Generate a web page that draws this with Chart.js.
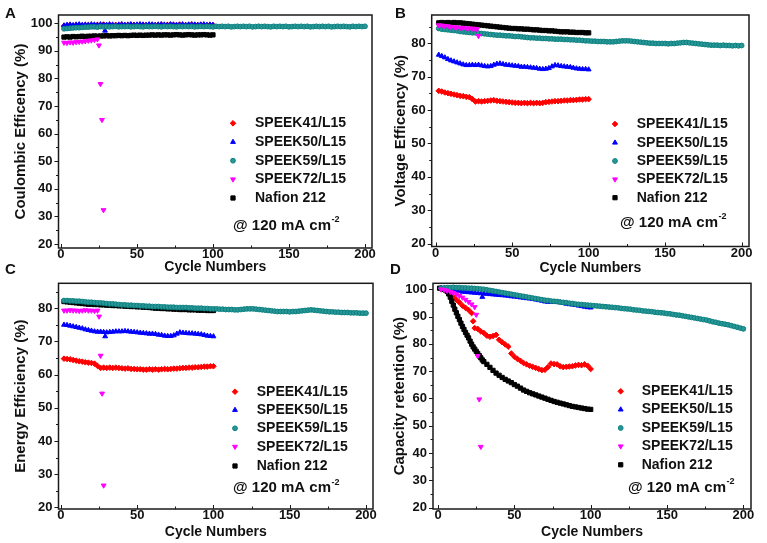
<!DOCTYPE html>
<html>
<head>
<meta charset="utf-8">
<script src="https://cdn.jsdelivr.net/npm/chart.js@4.4.1/dist/chart.umd.min.js"></script>
<style>
  body { margin: 0; background: #fff; }
  #fig { position: relative; width: 767px; height: 543px; overflow: hidden; background: #fff; }
  .panel { position: absolute; }
  .tag { position: absolute; font: bold 15px 'Liberation Sans', Arial, sans-serif; line-height: 15px; color: #111; }
</style>
</head>
<body>
<div id="fig">
  <canvas id="chartA" class="panel" width="383" height="278" style="left:0;top:0"></canvas>
  <canvas id="chartB" class="panel" width="384" height="278" style="left:383px;top:0"></canvas>
  <canvas id="chartC" class="panel" width="383" height="265" style="left:0;top:278px"></canvas>
  <canvas id="chartD" class="panel" width="384" height="265" style="left:383px;top:278px"></canvas>
  <div class="tag" style="left:5px;top:5px">A</div>
  <div class="tag" style="left:395px;top:5px">B</div>
  <div class="tag" style="left:5px;top:261px">C</div>
  <div class="tag" style="left:390px;top:261px">D</div>
</div>
<script>
// cycle numbers (every 2nd cycle)
const cycles100 = [2,4,6,8,10,12,14,16,18,20,22,24,26,28,30,32,34,36,38,40,42,44,46,48,50,52,54,56,58,60,62,64,66,68,70,72,74,76,78,80,82,84,86,88,90,92,94,96,98,100];
const cycles200 = [2,4,6,8,10,12,14,16,18,20,
  22,24,26,28,30,32,34,36,38,40,
  42,44,46,48,50,52,54,56,58,60,
  62,64,66,68,70,72,74,76,78,80,
  82,84,86,88,90,92,94,96,98,100,
  102,104,106,108,110,112,114,116,118,120,
  122,124,126,128,130,132,134,136,138,140,
  142,144,146,148,150,152,154,156,158,160,
  162,164,166,168,170,172,174,176,178,180,
  182,184,186,188,190,192,194,196,198,200];
const cycles72 = [2,4,6,8,10,12,14,16,18,20,22,24];
// Nafion capacity falls fast early on, so every cycle is kept there
const crNafCycles = [1,2,3,4,5,6,7,8,9,10,11,12,13,14,15,16,17,18,19,20,21,22,23,24,25,26,27,28,29,30,
  32,34,36,38,40,42,44,46,48,50,52,54,56,58,60,62,64,66,68,70,72,74,76,78,80,82,84,86,88,90,92,94,96,98,100];

const seriesNames = ['SPEEK41/L15', 'SPEEK50/L15', 'SPEEK59/L15', 'SPEEK72/L15', 'Nafion 212'];

// tick values
const xTickVals = [0,25,50,75,100,125,150,175,200];
const yTicksAD = [20,25,30,35,40,45,50,55,60,65,70,75,80,85,90,95,100];
const yTicksBC = [20,25,30,35,40,45,50,55,60,65,70,75,80,85];

// A - Coulombic efficiency
const ce41 = [99.0,99.2,99.3,99.1,99.3,99.4,99.2,99.3,99.4,99.3,99.2,99.4,99.3,99.5,99.3,99.4,99.2,99.4,99.3,99.5,99.4,99.3,99.5,99.4,99.3,99.5,99.4,99.3,99.4,99.5,99.3,99.4,99.5,99.3,99.4,99.5,99.4,99.3,99.5,99.4,99.3,99.4,99.5,99.4,99.3,99.5,99.4,99.3,99.4,99.3];
const ce50 = [99.2,99.4,99.5,99.3,99.5,99.6,99.4,99.5,99.3,99.6,99.5,99.4,99.6,99.5,99.4,99.6,99.5,99.3,99.5,99.6,99.4,99.5,99.6,99.4,99.5,99.6,99.5,99.4,99.6,99.5,99.4,99.5,99.6,99.5,99.4,99.6,99.5,99.4,99.5,99.6,99.4,99.5,99.6,99.5,99.4,99.5,99.6,99.4,99.5,99.4];
const ce59 = [98.0,98.1,98.2,98.3,98.4,98.4,98.5,98.6,98.6,98.7,
  98.7,98.6,98.8,98.7,98.8,98.7,98.8,98.9,98.7,98.8,
  98.8,98.9,98.7,98.8,98.9,98.8,98.7,98.9,98.8,98.8,
  98.9,98.8,98.7,98.9,98.8,98.9,98.8,98.7,98.9,98.8,
  98.9,98.8,98.9,98.7,98.8,98.9,98.8,98.9,98.8,98.7,
  98.9,98.8,98.9,98.8,98.9,98.7,98.8,98.9,98.8,98.9,
  98.8,98.9,98.7,98.8,98.9,98.8,98.9,98.8,98.7,98.9,
  98.8,98.9,98.8,98.9,98.7,98.8,98.9,98.8,98.9,98.8,
  98.9,98.7,98.8,98.9,98.8,98.9,98.8,98.9,98.7,98.8,
  98.9,98.8,98.9,98.8,98.7,98.9,98.8,98.9,98.8,98.9];
const ce72 = [93.0,92.9,93.1,93.0,93.2,93.3,93.4,93.5,93.7,93.8,94.0,94.2];
const ceNaf = [95.0,95.1,95.0,95.2,95.1,95.2,95.3,95.2,95.3,95.3,95.4,95.3,95.4,95.4,95.5,95.4,95.5,95.5,95.6,95.5,95.6,95.5,95.6,95.7,95.6,95.7,95.6,95.7,95.7,95.8,95.7,95.8,95.7,95.8,95.8,95.7,95.8,95.9,95.8,95.7,95.8,95.9,95.8,95.7,95.8,95.8,95.9,95.8,95.7,95.8];
const ce50TailX = [29], ce50TailY = [97.3];
const ce72TailX = [25,26,27,28], ce72TailY = [92.0,78.0,65.0,32.3];

// B - Voltage efficiency
const ve41 = [65.8,65.6,65.3,65.1,64.9,64.7,64.5,64.3,64.2,64.0,63.9,63.3,62.6,62.7,62.6,62.7,62.8,62.9,63.0,62.8,62.7,62.6,62.5,62.4,62.3,62.2,62.2,62.1,62.2,62.1,62.2,62.1,62.2,62.1,62.2,62.4,62.5,62.6,62.7,62.7,62.8,62.9,62.9,63.0,63.0,63.1,63.2,63.2,63.3,63.3];
const ve50 = [76.6,76.2,75.8,75.3,74.9,74.6,74.3,74.0,73.7,73.5,73.5,73.6,73.5,73.6,73.4,73.2,73.1,73.2,73.6,73.9,74.0,73.8,73.6,73.5,73.4,73.3,73.2,73.0,73.0,72.9,72.8,72.7,72.6,72.4,72.3,72.4,72.6,73.1,73.5,73.4,73.2,73.1,73.0,72.9,72.7,72.5,72.4,72.3,72.3,72.2];
const ve59 = [84.5,84.3,84.2,84.1,84.0,83.9,83.8,83.6,83.5,83.4,
  83.3,83.2,83.2,83.1,83.0,82.9,82.8,82.7,82.6,82.5,
  82.5,82.4,82.3,82.3,82.2,82.1,82.1,82.0,81.9,81.8,
  81.7,81.7,81.6,81.6,81.5,81.5,81.4,81.4,81.3,81.3,
  81.3,81.2,81.2,81.1,81.1,81.0,81.0,80.9,80.8,80.8,
  80.7,80.7,80.6,80.6,80.6,80.5,80.5,80.5,80.6,80.7,
  80.8,80.8,80.8,80.7,80.6,80.5,80.4,80.3,80.2,80.1,
  80.1,80.0,80.0,80.0,80.0,79.9,80.0,80.0,80.1,80.2,
  80.3,80.3,80.2,80.1,80.0,79.9,79.8,79.7,79.6,79.5,
  79.5,79.5,79.4,79.5,79.4,79.4,79.3,79.4,79.3,79.4];
const ve72 = [85.5,85.4,85.3,85.2,85.0,84.9,84.8,84.7,84.7,84.6,84.5,84.5];
const veNaf = [86.2,86.3,86.2,86.3,86.2,86.3,86.2,86.2,86.1,86.0,85.9,85.8,85.7,85.6,85.5,85.4,85.3,85.2,85.1,85.0,84.9,84.8,84.7,84.6,84.5,84.5,84.4,84.4,84.3,84.3,84.2,84.1,84.1,84.0,83.9,83.9,83.8,83.8,83.7,83.6,83.5,83.5,83.5,83.4,83.4,83.3,83.3,83.3,83.2,83.2];
const ve72TailX = [26,27,28], ve72TailY = [84.4,84.3,82.3];

// C - Energy efficiency
const ee41 = [64.8,64.7,64.6,64.4,64.2,64.0,63.9,63.7,63.6,63.5,63.3,62.6,62.0,62.1,62.0,62.1,62.0,62.1,62.0,61.9,61.8,61.9,61.7,61.7,61.6,61.6,61.5,61.5,61.6,61.5,61.6,61.5,61.6,61.7,61.6,61.7,61.8,61.8,61.9,62.0,62.0,62.1,62.1,62.2,62.2,62.3,62.4,62.4,62.5,62.5];
const ee50 = [75.0,74.9,74.7,74.5,74.3,74.1,73.9,73.6,73.4,73.2,73.0,72.9,72.9,72.8,72.7,72.8,72.9,73.0,73.0,73.0,73.1,73.0,72.9,72.8,72.7,72.6,72.5,72.4,72.3,72.3,72.2,72.0,71.9,71.7,71.6,71.6,71.8,72.3,72.7,72.6,72.5,72.4,72.4,72.3,72.2,72.1,71.9,71.7,71.6,71.5];
const ee59 = [82.3,82.3,82.2,82.2,82.1,82.1,82.0,81.9,81.8,81.8,
  81.7,81.6,81.6,81.5,81.4,81.3,81.3,81.2,81.1,81.0,
  81.0,80.9,80.9,80.8,80.8,80.7,80.7,80.6,80.6,80.5,
  80.5,80.5,80.4,80.4,80.3,80.3,80.3,80.2,80.2,80.2,
  80.2,80.1,80.1,80.0,80.0,80.0,79.9,79.9,79.8,79.8,
  79.8,79.7,79.7,79.6,79.6,79.6,79.5,79.5,79.6,79.7,
  79.8,79.8,79.8,79.7,79.6,79.5,79.4,79.3,79.2,79.1,
  79.0,79.0,79.0,79.0,78.9,79.0,79.0,79.1,79.2,79.3,
  79.4,79.5,79.4,79.3,79.2,79.1,79.0,78.9,78.9,78.8,
  78.8,78.7,78.7,78.7,78.6,78.6,78.6,78.5,78.5,78.5];
const ee72 = [79.3,79.3,79.4,79.3,79.3,79.2,79.3,79.4,79.3,79.3,79.2,79.3];
const eeNaf = [82.0,81.9,81.8,81.7,81.6,81.5,81.4,81.3,81.2,81.2,81.1,81.1,81.0,81.0,80.9,80.9,80.8,80.8,80.7,80.7,80.6,80.6,80.5,80.5,80.4,80.4,80.3,80.3,80.2,80.1,80.0,80.0,79.9,79.9,79.8,79.8,79.7,79.7,79.6,79.6,79.6,79.5,79.5,79.5,79.4,79.4,79.4,79.3,79.3,79.3];
const ee50TailX = [29], ee50TailY = [71.5];
const ee72TailX = [25,26,27,28], ee72TailY = [77.5,65.7,54.3,26.6];

// D - Capacity retention
const cr41 = [100.0,99.8,99.3,98.3,97.2,96.2,95.2,94.0,93.2,92.4,91.3,85.8,85.5,84.6,84.0,83.0,82.6,82.9,83.3,81.5,80.6,79.8,79.0,76.5,75.3,74.5,73.8,73.0,72.5,72.0,71.6,71.2,70.8,70.4,70.5,71.5,72.8,72.6,72.5,71.8,71.5,71.6,71.7,71.8,72.1,72.3,72.2,72.5,72.0,70.8];
const cr50 = [100.5,100.4,100.2,100.0,99.8,99.5,99.3,99.1,99.0,98.9,98.8,98.7,98.6,98.5,98.4,98.3,98.2,98.1,98.0,97.9,97.8,97.7,97.6,97.4,97.3,97.2,97.0,96.9,96.7,96.6,96.4,96.2,96.0,95.8,95.5,95.4,95.3,95.3,95.4,95.2,95.0,94.7,94.5,94.4,94.2,94.0,93.8,93.6,93.4,93.3];
const cr59 = [100.4,100.5,100.6,100.6,100.7,100.6,100.6,100.5,100.5,100.4,
  100.4,100.3,100.2,100.1,100.0,99.8,99.6,99.4,99.2,99.0,
  98.8,98.6,98.4,98.2,98.0,97.8,97.6,97.4,97.2,97.0,
  96.8,96.6,96.4,96.2,96.0,95.9,95.7,95.6,95.5,95.3,
  95.2,95.1,94.9,94.8,94.6,94.5,94.4,94.3,94.2,94.1,
  94.0,93.9,93.8,93.7,93.6,93.5,93.4,93.3,93.2,93.0,
  92.9,92.8,92.7,92.5,92.4,92.3,92.1,92.0,91.9,91.8,
  91.6,91.5,91.4,91.3,91.1,91.0,90.8,90.6,90.5,90.3,
  90.1,89.9,89.7,89.5,89.3,89.1,88.9,88.7,88.4,88.1,
  87.9,87.6,87.4,87.2,87.0,86.7,86.4,86.1,85.8,85.5];
const cr72 = [100.0,99.8,99.5,99.1,98.7,98.2,97.6,97.0,96.2,95.4,94.5,93.5];
const crNaf = [100.4,100.3,100.1,100.0,99.7,99.2,98.3,97.1,95.6,94.2,92.7,91.4,90.1,88.9,87.6,86.4,85.3,84.2,83.2,82.2,81.0,79.9,78.9,78.1,77.3,76.5,75.7,74.9,74.1,73.5,
  72.5,71.4,70.3,69.3,68.5,67.7,67.0,66.4,65.8,65.1,64.5,63.8,63.1,62.6,62.1,61.7,61.3,60.9,60.5,60.1,59.7,59.3,58.9,58.6,58.3,58.0,57.7,57.4,57.1,56.9,56.7,56.5,56.3,56.1,56.0];
const cr41TailX = [23], cr41TailY = [88.3];
const cr50TailX = [29], cr50TailY = [97.2];
const cr72TailX = [25,26,27,28], cr72TailY = [90.7,75.6,59.7,42.3];

// marker looks, in series order
const markers = [
  { style: 'rectRot', rot: 0, r: 2.8, fill: '#ff0000', line: '#ff0000', order: 5 },
  { style: 'triangle', rot: 0, r: 2.8, fill: '#0000ff', line: '#0000ff', order: 4 },
  { style: 'circle', rot: 0, r: 2.4, fill: '#2a9696', line: '#0a8080', order: 2 },
  { style: 'triangle', rot: 180, r: 2.8, fill: '#ff00ff', line: '#ff00ff', order: 1 },
  { style: 'rect', rot: 0, r: 3, fill: '#000000', line: '#000000', order: 3 }
];

const FONT = "'Liberation Sans', Arial, sans-serif";

function pts(xs, ys) {
  return xs.map((x, i) => ({ x: x, y: ys[i] }));
}

// frame, tick marks and the in-plot legend
const decorPlugin = {
  id: 'decor',
  afterDraw(chart, args, opts) {
    const ctx = chart.ctx;
    const a = chart.chartArea;
    const xs = chart.scales.x, ys = chart.scales.y;
    ctx.save();
    ctx.strokeStyle = '#1a1a1a';
    ctx.lineWidth = 1;
    ctx.beginPath();
    ys.ticks.forEach(t => {
      const y = Math.round(ys.getPixelForValue(t.value)) + 0.5;
      const len = t.value % 10 === 0 ? 4 : 2.5;
      ctx.moveTo(a.left, y); ctx.lineTo(a.left - len, y);
    });
    xs.ticks.forEach(t => {
      const x = Math.round(xs.getPixelForValue(t.value)) + 0.5;
      const len = t.value % 50 === 0 ? 4 : 2.5;
      ctx.moveTo(x, a.bottom); ctx.lineTo(x, a.bottom - len);
    });
    ctx.stroke();
    ctx.lineWidth = 1.5;
    ctx.strokeRect(a.left, a.top, a.right - a.left, a.bottom - a.top);

    // legend
    const lg = opts.legend;
    ctx.font = 'bold 14px ' + FONT;
    ctx.textBaseline = 'middle';
    ctx.textAlign = 'left';
    seriesNames.forEach((name, i) => {
      const m = markers[i];
      ctx.fillStyle = m.fill;
      ctx.strokeStyle = m.line;
      ctx.lineWidth = 1;
      Chart.helpers.drawPoint(ctx, { pointStyle: m.style, rotation: m.rot, radius: m.r, borderWidth: 1 }, lg.mx, lg.rows[i]);
      ctx.fillStyle = '#111';
      ctx.fillText(name, lg.tx, lg.rows[i]);
    });
    const main = '@ 120 mA cm';
    ctx.fillStyle = '#111';
    ctx.font = 'bold 15px ' + FONT;
    ctx.fillText(main, lg.noteX, lg.noteY);
    const w = ctx.measureText(main).width;
    ctx.font = 'bold 9px ' + FONT;
    ctx.fillText('-2', lg.noteX + w + 0.5, lg.noteY - 6);
    ctx.restore();
  }
};

function makePanel(p) {
  const datasets = p.series.map((s, i) => {
    const m = markers[i];
    return {
      label: seriesNames[i],
      data: pts(s.x, s.y).concat(pts(s.tx || [], s.ty || [])),
      showLine: false,
      order: m.order,
      pointStyle: m.style,
      pointRotation: m.rot,
      pointRadius: m.r,
      pointBackgroundColor: m.fill,
      pointBorderColor: m.line,
      pointBorderWidth: 1
    };
  });

  return new Chart(document.getElementById(p.id), {
    type: 'scatter',
    data: { datasets: datasets },
    plugins: [decorPlugin],
    options: {
      responsive: false,
      maintainAspectRatio: false,
      animation: false,
      events: [],
      devicePixelRatio: 1,
      layout: { padding: { left: 0, top: p.padTop, right: p.padRight, bottom: 0 } },
      plugins: {
        legend: { display: false },
        tooltip: { enabled: false },
        decor: { legend: p.legend }
      },
      scales: {
        x: {
          type: 'linear',
          min: p.xMin, max: p.xMax,
          grid: { display: false, drawTicks: false },
          border: { display: false },
          afterBuildTicks: s => { s.ticks = xTickVals.map(v => ({ value: v })); },
          afterFit: s => { s.height = p.xHeight; s.paddingLeft = 0; s.paddingRight = 0; },
          ticks: {
            autoSkip: false, maxRotation: 0, padding: -1, color: '#111',
            font: { family: FONT, size: 13, weight: 'bold' },
            callback: v => (v % 50 === 0 ? v : '')
          },
          title: {
            display: true, text: 'Cycle Numbers', color: '#111',
            font: { family: FONT, size: 14, weight: 'bold' },
            padding: { top: 0, bottom: p.xTitlePad }
          }
        },
        y: {
          type: 'linear',
          min: p.yMin, max: p.yMax,
          grid: { display: false, drawTicks: false },
          border: { display: false },
          afterBuildTicks: s => { s.ticks = p.yTicks.map(v => ({ value: v })); },
          afterFit: s => { s.width = p.yWidth; s.paddingTop = 0; s.paddingBottom = 0; },
          ticks: {
            autoSkip: false, padding: 6, color: '#111',
            font: { family: FONT, size: 13, weight: 'bold' },
            callback: v => (v % 10 === 0 ? v : '')
          },
          title: {
            display: true, text: p.yTitle, color: '#111',
            font: { family: FONT, size: 15, weight: 'bold' },
            padding: { top: p.yTitlePad, bottom: 0 }
          }
        }
      }
    }
  });
}

const panels = [
  {
    id: 'chartA', yTitle: 'Coulombic Efficency (%)',
    yMin: 18.55, yMax: 103, xMin: -1.6, xMax: 204.6, yTicks: yTicksAD,
    padTop: 15, padRight: 11, yWidth: 58.5, xHeight: 30, yTitlePad: 11.7, xTitlePad: 2,
    legend: { mx: 233, tx: 255, rows: [123.3, 142, 160.7, 179.3, 198], noteX: 233, noteY: 226 },
    series: [
      { x: cycles100, y: ce41 },
      { x: cycles100, y: ce50, tx: ce50TailX, ty: ce50TailY },
      { x: cycles200, y: ce59 },
      { x: cycles72, y: ce72, tx: ce72TailX, ty: ce72TailY },
      { x: cycles100, y: ceNaf }
    ]
  },
  {
    id: 'chartB', yTitle: 'Voltage Efficency (%)',
    yMin: 19.1, yMax: 88.55, xMin: -2.6, xMax: 204.8, yTicks: yTicksBC,
    padTop: 15, padRight: 18, yWidth: 48.7, xHeight: 31.5, yTitlePad: 8.7, xTitlePad: 1.6,
    legend: { mx: 232, tx: 253.7, rows: [124, 142.7, 161, 179.3, 197.7], noteX: 237, noteY: 222.7 },
    series: [
      { x: cycles100, y: ve41 },
      { x: cycles100, y: ve50 },
      { x: cycles200, y: ve59 },
      { x: cycles72, y: ve72, tx: ve72TailX, ty: ve72TailY },
      { x: cycles100, y: veNaf }
    ]
  },
  {
    id: 'chartC', yTitle: 'Energy Efficiency (%)',
    yMin: 19.5, yMax: 87.5, xMin: -1.6, xMax: 204.6, yTicks: yTicksBC,
    padTop: 5.3, padRight: 10, yWidth: 58.5, xHeight: 34, yTitlePad: 11.7, xTitlePad: 2.9,
    legend: { mx: 235, tx: 256.7, rows: [113.7, 132, 150.3, 168.7, 188], noteX: 233, noteY: 210.3 },
    series: [
      { x: cycles100, y: ee41 },
      { x: cycles100, y: ee50, tx: ee50TailX, ty: ee50TailY },
      { x: cycles200, y: ee59 },
      { x: cycles72, y: ee72, tx: ee72TailX, ty: ee72TailY },
      { x: cycles100, y: eeNaf }
    ]
  },
  {
    id: 'chartD', yTitle: 'Capacity retention (%)',
    yMin: 19.5, yMax: 102.2, xMin: -3.3, xMax: 205, yTicks: yTicksAD,
    padTop: 5.3, padRight: 16, yWidth: 50, xHeight: 34, yTitlePad: 8, xTitlePad: 2.9,
    legend: { mx: 237.7, tx: 258.7, rows: [113.3, 131.6, 150, 168.3, 186.8], noteX: 245, noteY: 210 },
    series: [
      { x: cycles100, y: cr41, tx: cr41TailX, ty: cr41TailY },
      { x: cycles100, y: cr50, tx: cr50TailX, ty: cr50TailY },
      { x: cycles200, y: cr59 },
      { x: cycles72, y: cr72, tx: cr72TailX, ty: cr72TailY },
      { x: crNafCycles, y: crNaf }
    ]
  }
];

panels.forEach(makePanel);
</script>
</body>
</html>
